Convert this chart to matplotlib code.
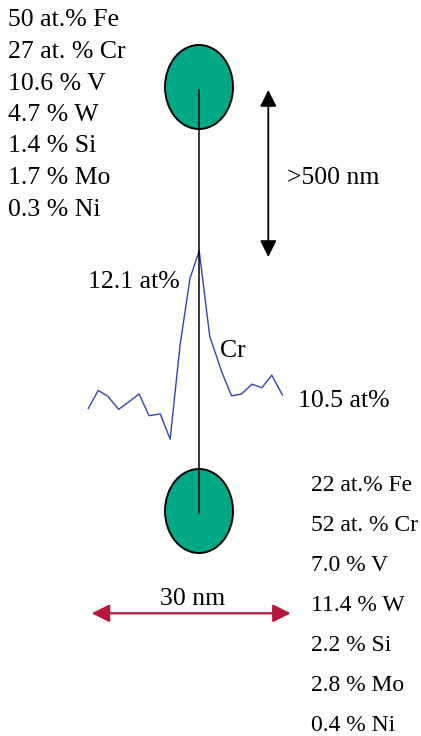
import matplotlib
matplotlib.use("Agg")
import matplotlib.pyplot as plt
from matplotlib.patches import Ellipse, FancyArrowPatch

# ---------------- data ----------------
top_composition = ["50 at.% Fe", "27 at. % Cr", "10.6 % V", "4.7 % W",
                   "1.4 % Si", "1.7 % Mo", "0.3 % Ni"]
bottom_composition = ["22 at.% Fe", "52 at. % Cr", "7.0 % V", "11.4 % W",
                      "2.2 % Si", "2.8 % Mo", "0.4 % Ni"]
# Cr concentration profile along the line (distance in nm, Cr in at%)
profile_nm = [0.0, 1.5, 2.9, 4.6, 7.7, 9.2, 10.9, 12.4, 13.9, 15.4,
              16.8, 18.4, 20.2, 21.7, 23.2, 24.8, 26.3, 27.8, 29.4]
profile_cr = [10.35, 10.55, 10.49, 10.34, 10.51, 10.27, 10.29, 10.01, 11.05, 11.79,
              12.10, 11.15, 10.76, 10.49, 10.51, 10.62, 10.58, 10.72, 10.50]
peak_label = "12.1 at%"
base_label = "10.5 at%"
element_label = "Cr"
distance_label = ">500 nm"
width_label = "30 nm"

W, H = 421, 736
fig = plt.figure(figsize=(W / 100, H / 100), dpi=100)
fig.patch.set_facecolor("white")

FONT = ["Liberation Serif", "DejaVu Serif"]

# profile axes (placed in pixel units of the figure)
px_left, px_right, px_top, px_bot = 80, 290, 240, 450
pax = fig.add_axes([px_left / W, 1 - px_bot / H, (px_right - px_left) / W, (px_bot - px_top) / H])
pax.set_zorder(0)
px_per_nm = 6.6
x0_px = 88.3
pax.set_xlim((px_left - x0_px) / px_per_nm, (px_right - x0_px) / px_per_nm)
atp_per_px = 0.01109
pk_px = 250.7
pax.set_ylim(12.1 - (px_bot - pk_px) * atp_per_px, 12.1 + (pk_px - px_top) * atp_per_px)
pax.plot(profile_nm, profile_cr, color="#3346B0", lw=1.0)
pax.axis("off")

# main overlay axes in pixel coordinates
ax = fig.add_axes([0, 0, 1, 1])
ax.set_zorder(1)
ax.set_xlim(0, W)
ax.set_ylim(H, 0)
ax.axis("off")

teal = "#00A886"
ax.add_patch(Ellipse((199, 87), 68, 84, facecolor=teal, edgecolor="black", lw=1.4))
ax.add_patch(Ellipse((199, 511), 68, 84, facecolor=teal, edgecolor="black", lw=1.4))
ax.plot([198.5, 198.5], [90, 513], color="black", lw=1.1)

# black double arrow
ax.add_patch(FancyArrowPatch((268.3, 90), (268.3, 257),
                             arrowstyle="<|-|>,head_length=10,head_width=5",
                             mutation_scale=1, color="black", lw=1.3,
                             shrinkA=0, shrinkB=0))
# red double arrow
ax.add_patch(FancyArrowPatch((91.7, 613.3), (290.7, 613.3),
                             arrowstyle="<|-|>,head_length=10.8,head_width=5.4",
                             mutation_scale=1, color="#B5183A", lw=1.6,
                             shrinkA=0, shrinkB=0))

fs = 18.5
for i, t in enumerate(top_composition):
    ax.text(8, 26.5 + i * 31.5, t, fontsize=fs, family=FONT, va="baseline", ha="left")
for i, t in enumerate(bottom_composition):
    ax.text(311, 491 + i * 40, t, fontsize=17, family=FONT, va="baseline", ha="left")

ax.text(286.7, 184, distance_label, fontsize=fs, family=FONT, va="baseline")
ax.text(88.3, 288, peak_label, fontsize=fs, family=FONT, va="baseline")
ax.text(220, 356.7, element_label, fontsize=fs, family=FONT, va="baseline")
ax.text(298, 407, base_label, fontsize=fs, family=FONT, va="baseline")
ax.text(160, 605, width_label, fontsize=fs, family=FONT, va="baseline")

fig.savefig("out.png", dpi=100)
